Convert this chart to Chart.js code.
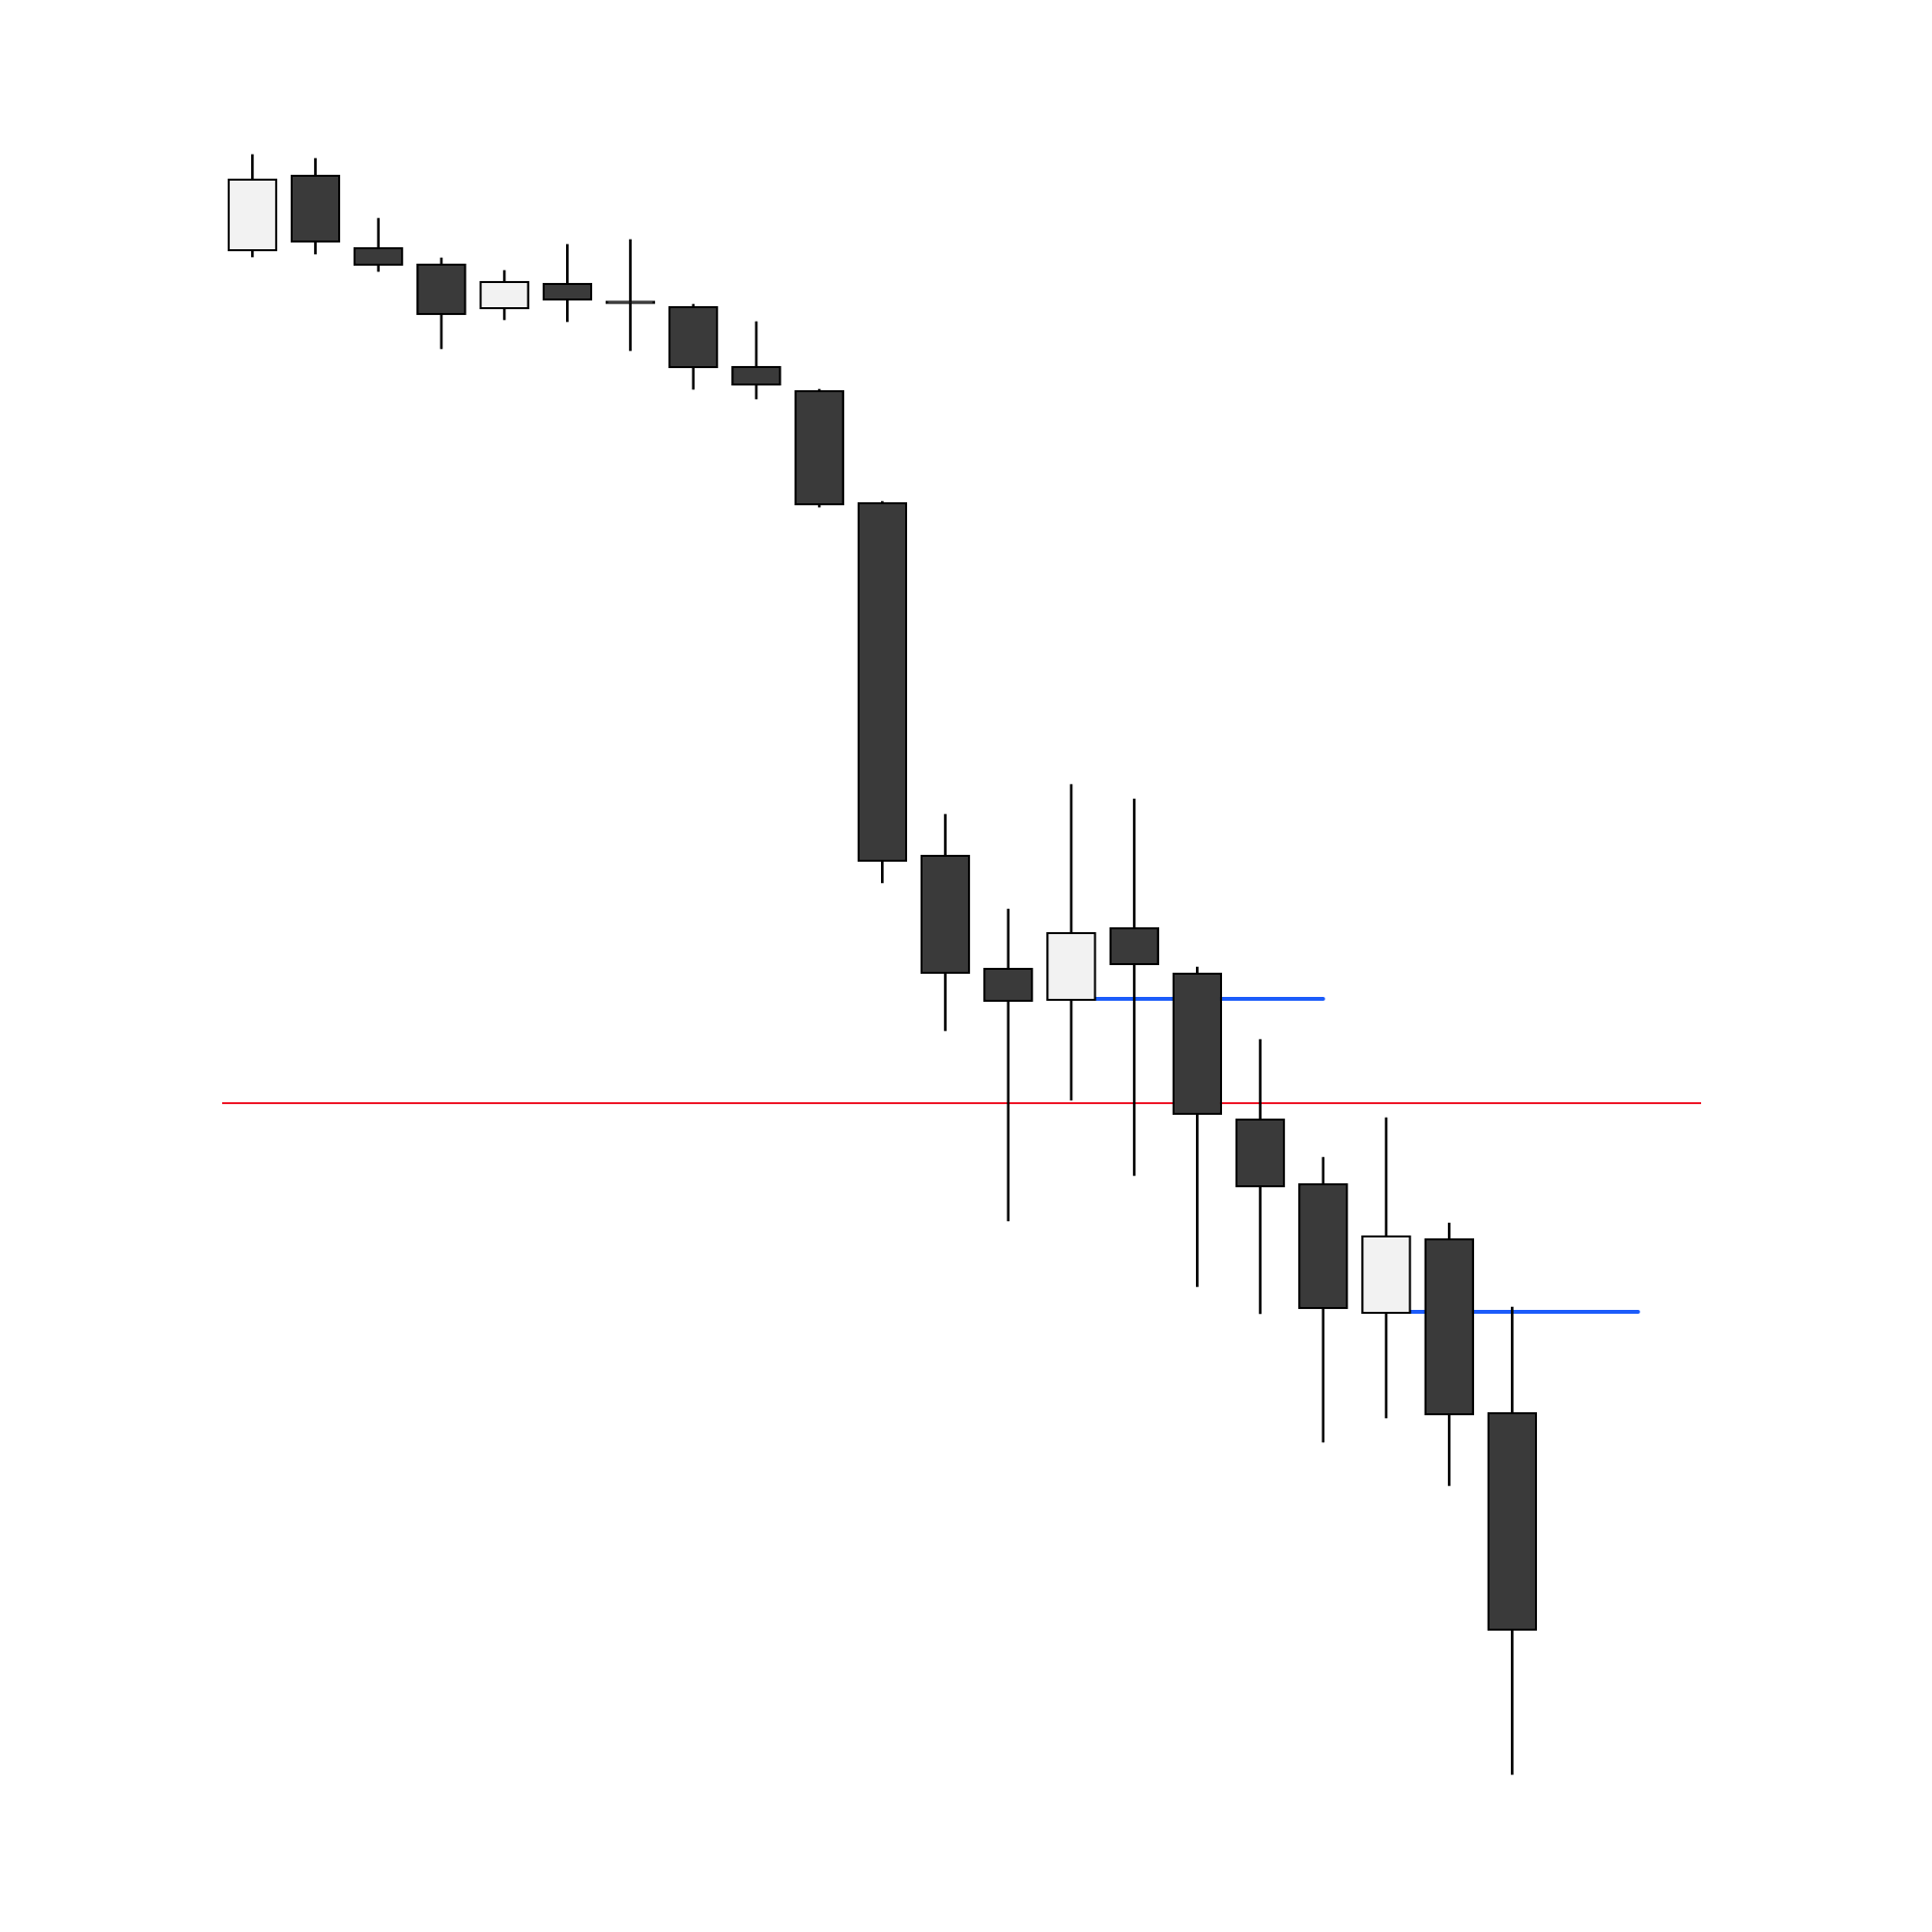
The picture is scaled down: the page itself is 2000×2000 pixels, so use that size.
<!DOCTYPE html>
<html>
<head>
<meta charset="utf-8">
<script src="https://cdn.jsdelivr.net/npm/chart.js@4.4.1/dist/chart.umd.min.js"></script>
<style>
  html, body { margin: 0; padding: 0; background: #ffffff; }
  #wrap { width: 2000px; height: 2000px; }
</style>
</head>
<body>
<div id="wrap"><canvas id="candles" width="2000" height="2000"></canvas></div>
<script>
// Dados das velas (preço)
const opens  = [98.40, 99.19, 98.44, 98.27, 97.80, 98.07, 97.885, 97.83, 97.21, 96.96, 95.80, 92.15, 90.98, 90.64, 91.40, 90.93, 89.42, 88.75, 87.40, 88.18, 86.38];
const highs  = [99.40, 99.36, 98.74, 98.33, 98.20, 98.47, 98.52, 97.85, 97.67, 96.97, 95.81, 92.57, 91.59, 92.88, 92.73, 90.99, 90.24, 89.02, 89.43, 88.34, 87.47];
const lows   = [98.34, 98.37, 98.19, 97.39, 97.69, 97.67, 97.37, 96.97, 96.87, 95.75, 91.86, 90.33, 88.36, 89.61, 88.83, 87.68, 87.40, 86.07, 86.32, 85.62, 82.63];
const closes = [99.15, 98.49, 98.25, 97.74, 98.09, 97.89, 97.855, 97.19, 97.01, 95.77, 92.08, 90.92, 90.63, 91.35, 91.01, 89.46, 88.71, 87.45, 88.21, 86.35, 84.12];

// Linha vermelha (nível horizontal)
const resistanceLevel = 89.58;

// Linhas azuis (suportes): preço, vela inicial, vela final
const supportLevels = [90.66, 87.42];
const supportStart = [13, 18];
const supportEnd = [17, 22];

const slots = opens.map((_, i) => i);
const xMin = -0.48;
const xMax = 23.0;

const bodyColors = slots.map((i) => (closes[i] >= opens[i] ? "#f2f2f2" : "#3a3a3a"));

const datasets = [
  {
    type: "bar",
    label: "corpo",
    data: slots.map((i) => ({ x: i, y: [opens[i], closes[i]] })),
    backgroundColor: bodyColors,
    borderColor: "#000000",
    borderWidth: 2.3,
    borderSkipped: false,
    barThickness: 51,
    grouped: false,
    order: 0,
  },
  {
    type: "bar",
    label: "pavio",
    data: slots.map((i) => ({ x: i, y: [lows[i], highs[i]] })),
    backgroundColor: "#000000",
    borderWidth: 0,
    barThickness: 2,
    grouped: false,
    order: 1,
  },
  {
    type: "line",
    label: "resistencia",
    data: [
      { x: xMin, y: resistanceLevel },
      { x: xMax, y: resistanceLevel },
    ],
    borderColor: "#ee1526",
    borderWidth: 2,
    pointRadius: 0,
    order: 3,
  },
];

supportLevels.forEach((level, k) => {
  datasets.push({
    type: "line",
    label: "suporte " + (k + 1),
    data: [
      { x: supportStart[k], y: level },
      { x: supportEnd[k], y: level },
    ],
    borderColor: "#1c5cfa",
    borderWidth: 4,
    borderCapStyle: "round",
    pointRadius: 0,
    order: 2,
  });
});

const ctx = document.getElementById("candles").getContext("2d");
new Chart(ctx, {
  type: "bar",
  data: { datasets: datasets },
  options: {
    responsive: false,
    animation: false,
    devicePixelRatio: 1,
    layout: {
      padding: { left: 230, right: 239, top: 100, bottom: 100 },
    },
    plugins: {
      legend: { display: false },
      tooltip: { enabled: false },
    },
    scales: {
      x: {
        type: "linear",
        min: xMin,
        max: xMax,
        offset: false,
        display: false,
      },
      y: {
        type: "linear",
        min: 82,
        max: 100,
        display: false,
      },
    },
  },
});
</script>
</body>
</html>
